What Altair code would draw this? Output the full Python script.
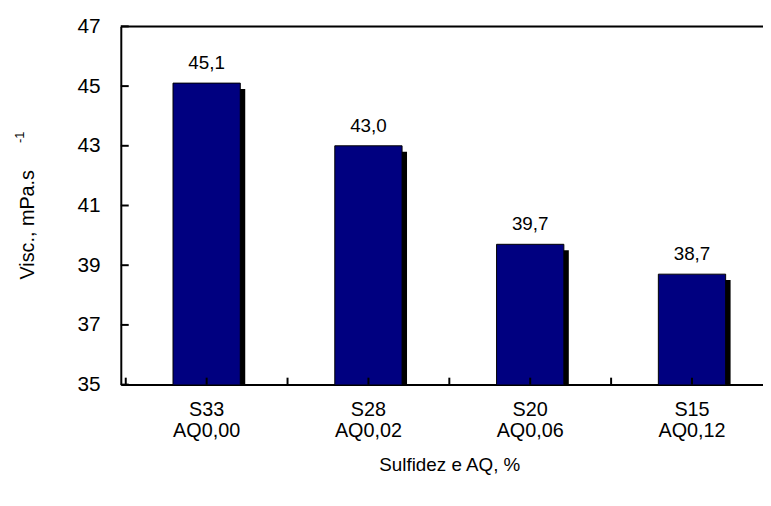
import altair as alt
import pandas as pd

sulfidez = ["S33", "S28", "S20", "S15"]
aq = ["AQ0,00", "AQ0,02", "AQ0,06", "AQ0,12"]
visc = [45.1, 43.0, 39.7, 38.7]
visc_labels = ["45,1", "43,0", "39,7", "38,7"]
y_ticks = [35, 37, 39, 41, 43, 45, 47]
x_ticks = [-0.5, 0, 0.5, 1, 1.5, 2, 2.5, 3, 3.5]

FONT = "Liberation Sans"
W, H = 649, 362

df = pd.DataFrame({
    "idx": list(range(len(sulfidez))),
    "visc": visc,
    "lab": visc_labels,
    "cat": [f"{s}\n{a}" for s, a in zip(sulfidez, aq)],
})
yt = pd.DataFrame({"v": y_ticks})
xt = pd.DataFrame({"v": x_ticks})
one = pd.DataFrame({"a": [0]})

xscale = alt.Scale(domain=[-0.5, 3.5], range=[0, 664], nice=False, zero=False)
yscale = alt.Scale(domain=[35, 47], nice=False, zero=False)

base = alt.Chart(df)

shadow = base.mark_bar(size=68, color="black", xOffset=5, yOffset=6, clip=True).encode(
    x=alt.X("idx:Q", scale=xscale,
            axis=alt.Axis(values=[], ticks=False, labels=False, domainColor="black",
                          domainWidth=2, title="Sulfidez e AQ, %", titleFont=FONT,
                          titleFontSize=19, titleFontWeight="normal", titleColor="black",
                          titleX=332, titlePadding=72)),
    y=alt.Y("visc:Q", scale=yscale,
            axis=alt.Axis(values=y_ticks, tickSize=0, labelPadding=21, labelFont=FONT,
                          labelFontSize=21, labelColor="black", domainColor="black",
                          domainWidth=2, grid=False, title="Visc., mPa.s", titleFont=FONT,
                          titleFontSize=20, titleFontWeight="normal", titleColor="black",
                          titleAngle=270, titleX=-94, titleY=200, titleAlign="center",
                          titleBaseline="middle")),
)

bars = base.mark_bar(size=68, color="#000080", stroke="black", strokeWidth=1, clip=True).encode(
    x=alt.X("idx:Q", scale=xscale),
    y=alt.Y("visc:Q", scale=yscale),
)

vals = base.mark_text(font=FONT, fontSize=19, color="black", baseline="alphabetic", dy=-14).encode(
    x=alt.X("idx:Q", scale=xscale),
    y=alt.Y("visc:Q", scale=yscale),
    text="lab:N",
)

cats = base.mark_text(font=FONT, fontSize=20, color="black", baseline="middle",
                      lineBreak="\n", lineHeight=21).encode(
    x=alt.X("idx:Q", scale=xscale),
    y=alt.value(H + 26),
    text="cat:N",
)

ytk = alt.Chart(yt).mark_rule(color="black", strokeWidth=2).encode(
    y=alt.Y("v:Q", scale=yscale),
    x=alt.value(0),
    x2=alt.value(8),
)

xtk = alt.Chart(xt).mark_rule(color="black", strokeWidth=2).encode(
    x=alt.X("v:Q", scale=xscale),
    y=alt.value(H),
    y2=alt.value(H - 7),
)

top = alt.Chart(one).mark_rule(color="black", strokeWidth=2).encode(
    x=alt.value(0),
    x2=alt.value(700),
    y=alt.value(0),
)

sup = alt.Chart(one).mark_text(font=FONT, fontSize=13, color="black", angle=270).encode(
    x=alt.value(-102),
    y=alt.value(112),
    text=alt.value("-1"),
)

chart = alt.layer(shadow, bars, vals, cats, ytk, xtk, top, sup).properties(
    width=W, height=H,
    autosize=alt.AutoSizeParams(type="none"),
    padding={"left": 114, "top": 16, "right": 0, "bottom": 112},
).configure_view(stroke=None).configure(background="white")

chart.save("out.html", embed_options={"renderer": "svg", "actions": False})
